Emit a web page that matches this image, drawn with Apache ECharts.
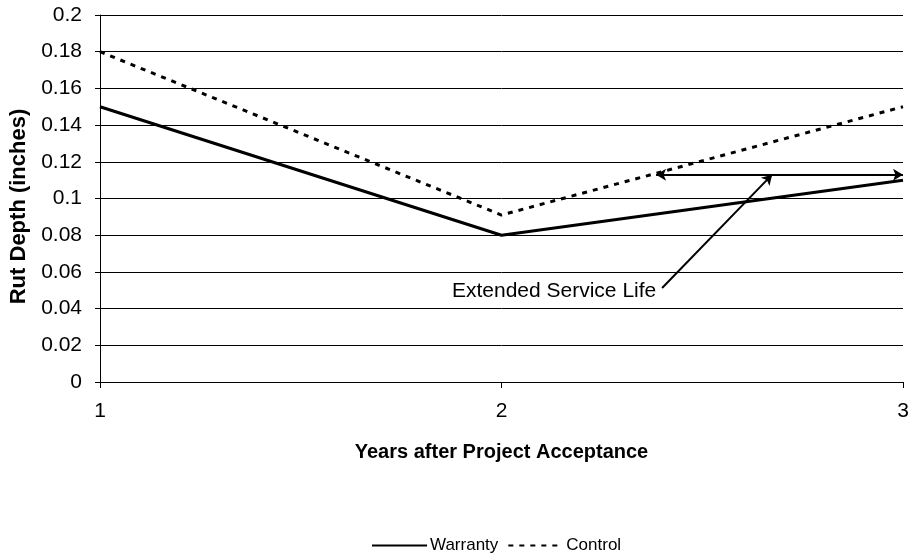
<!DOCTYPE html>
<html>
<head>
<meta charset="utf-8">
<script src="https://cdn.jsdelivr.net/npm/echarts@6/dist/echarts.min.js"></script>
<style>
  html, body { margin: 0; padding: 0; background: #fff; }
  #chart { width: 915px; height: 556px; }
</style>
</head>
<body>
<div id="chart"></div>
<script>
// years after acceptance
const years = [1, 2, 3];
const warranty = [0.15, 0.08, 0.11];
const control = [0.18, 0.091, 0.15];

// annotation: extended service life arrows
const lifeArrow = [[2.385, 0.113], [3, 0.113]];
const pointerArrow = [[2.4, 0.0512], [2.674, 0.113]];
const noteText = "Extended Service Life";
const notePos = [2.131, 0.0493];

const font = "Liberation Sans, Arial, sans-serif";

const chart = echarts.init(document.getElementById("chart"));

const option = {
    animation: false,
    grid: { left: 100, right: 12, top: 15, bottom: 174 },
    legend: {
        top: 537,
        left: 371,
        itemWidth: 55,
        itemHeight: 14,
        itemGap: 9,
        padding: 0,
        itemStyle: { opacity: 0 },
        textStyle: { fontFamily: font, fontSize: 17, color: "#000", padding: [0, 0, 0, -2] },
        data: ["Warranty", "Control"],
    },
    xAxis: {
        type: "value",
        min: 1,
        max: 3,
        interval: 1,
        name: "Years after Project Acceptance",
        nameLocation: "middle",
        nameGap: 60,
        nameTextStyle: { fontFamily: font, fontSize: 20, fontWeight: "bold", color: "#000" },
        axisLine: { lineStyle: { color: "#000", width: 1 } },
        axisTick: { show: true, length: 6, lineStyle: { color: "#000" } },
        axisLabel: { fontFamily: font, fontSize: 21, color: "#000", margin: 19 },
        splitLine: { show: false },
    },
    yAxis: {
        type: "value",
        min: 0,
        max: 0.2,
        interval: 0.02,
        name: "Rut Depth (inches)",
        nameLocation: "middle",
        nameGap: 70,
        nameTextStyle: { fontFamily: font, fontSize: 22, fontWeight: "bold", color: "#000", padding: [0, 16, 0, 0] },
        axisLine: { show: true, lineStyle: { color: "#000", width: 1 } },
        axisTick: { show: true, length: 5, lineStyle: { color: "#000" } },
        axisLabel: {
            fontFamily: font,
            fontSize: 21,
            color: "#000",
            margin: 18,
            formatter: (v) => String(+v.toFixed(2)),
        },
        splitLine: { show: true, lineStyle: { color: "#000", width: 1 } },
    },
    series: [
        {
            name: "Warranty",
            type: "line",
            data: years.map((x, i) => [x, warranty[i]]),
            symbol: "none",
            lineStyle: { color: "#000", width: 3 },
            itemStyle: { color: "#000" },
            markLine: {
                silent: true,
                symbol: ["arrow", "arrow"],
                symbolSize: [9, 10],
                label: { show: false },
                lineStyle: { color: "#000", width: 2, type: "solid" },
                data: [
                    [{ coord: lifeArrow[0] }, { coord: lifeArrow[1] }],
                    [{ coord: pointerArrow[0], symbol: "none" }, { coord: pointerArrow[1] }],
                ],
            },
            markPoint: {
                silent: true,
                symbol: "circle",
                symbolSize: 0,
                label: {
                    show: true,
                    formatter: noteText,
                    fontFamily: font,
                    fontSize: 21,
                    color: "#000",
                },
                data: [{ coord: notePos }],
            },
        },
        {
            name: "Control",
            type: "line",
            data: years.map((x, i) => [x, control[i]]),
            symbol: "none",
            lineStyle: { color: "#000", width: 3, type: [5, 6] },
            itemStyle: { color: "#000" },
        },
    ],
};

chart.setOption(option);
</script>
</body>
</html>
